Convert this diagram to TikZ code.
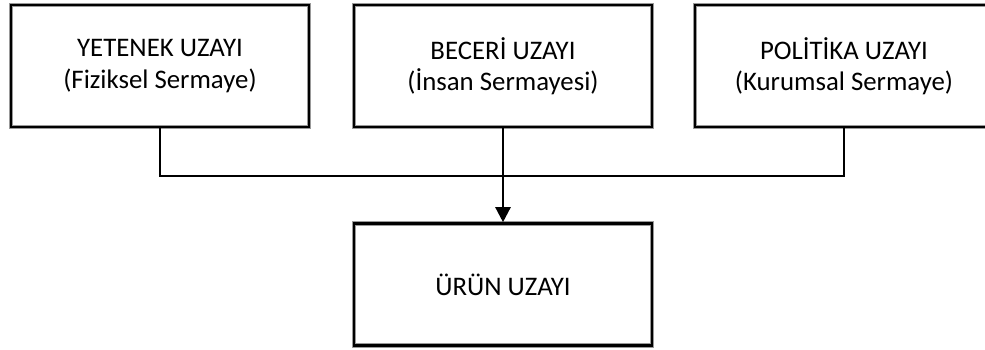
\documentclass[tikz,border=0pt]{standalone}
\usepackage{fontspec}
\setmainfont{Carlito}
\usetikzlibrary{arrows.meta}
\tikzset{
  spacebox/.style={draw=black, line width=2.6pt, minimum width=298pt, minimum height=122pt,
    inner sep=0pt, align=center, font=\fontsize{26.8}{31.5}\selectfont,
    preaction={draw=black!40, line width=4.4pt}},
  link/.style={draw=black, line width=2.4pt},
  arrowlink/.style={link, -{Triangle[width=15pt,length=15pt]}}
}
\begin{document}
\begin{tikzpicture}[x=1pt,y=-1pt]
\useasboundingbox (0,0) rectangle (985,349);
\clip (0,0) rectangle (985,349);
\node[spacebox] (b1) at (160,66) {YETENEK UZAYI\\(Fiziksel Sermaye)};
\node[spacebox] (b2) at (503,66) {BECERİ UZAYI\\(İnsan Sermayesi)};
\node[spacebox] (b3) at (844,66) {POLİTİKA UZAYI\\(Kurumsal Sermaye)};
\node[spacebox] (b4) at (503,284.5) {ÜRÜN UZAYI};
\coordinate (bus) at (0,176);
\draw[link] (b1.south) |- (b3.south |- bus) -- (b3.south);
\draw[arrowlink] (b2.south) -- (b4.north);
\end{tikzpicture}
\end{document}
